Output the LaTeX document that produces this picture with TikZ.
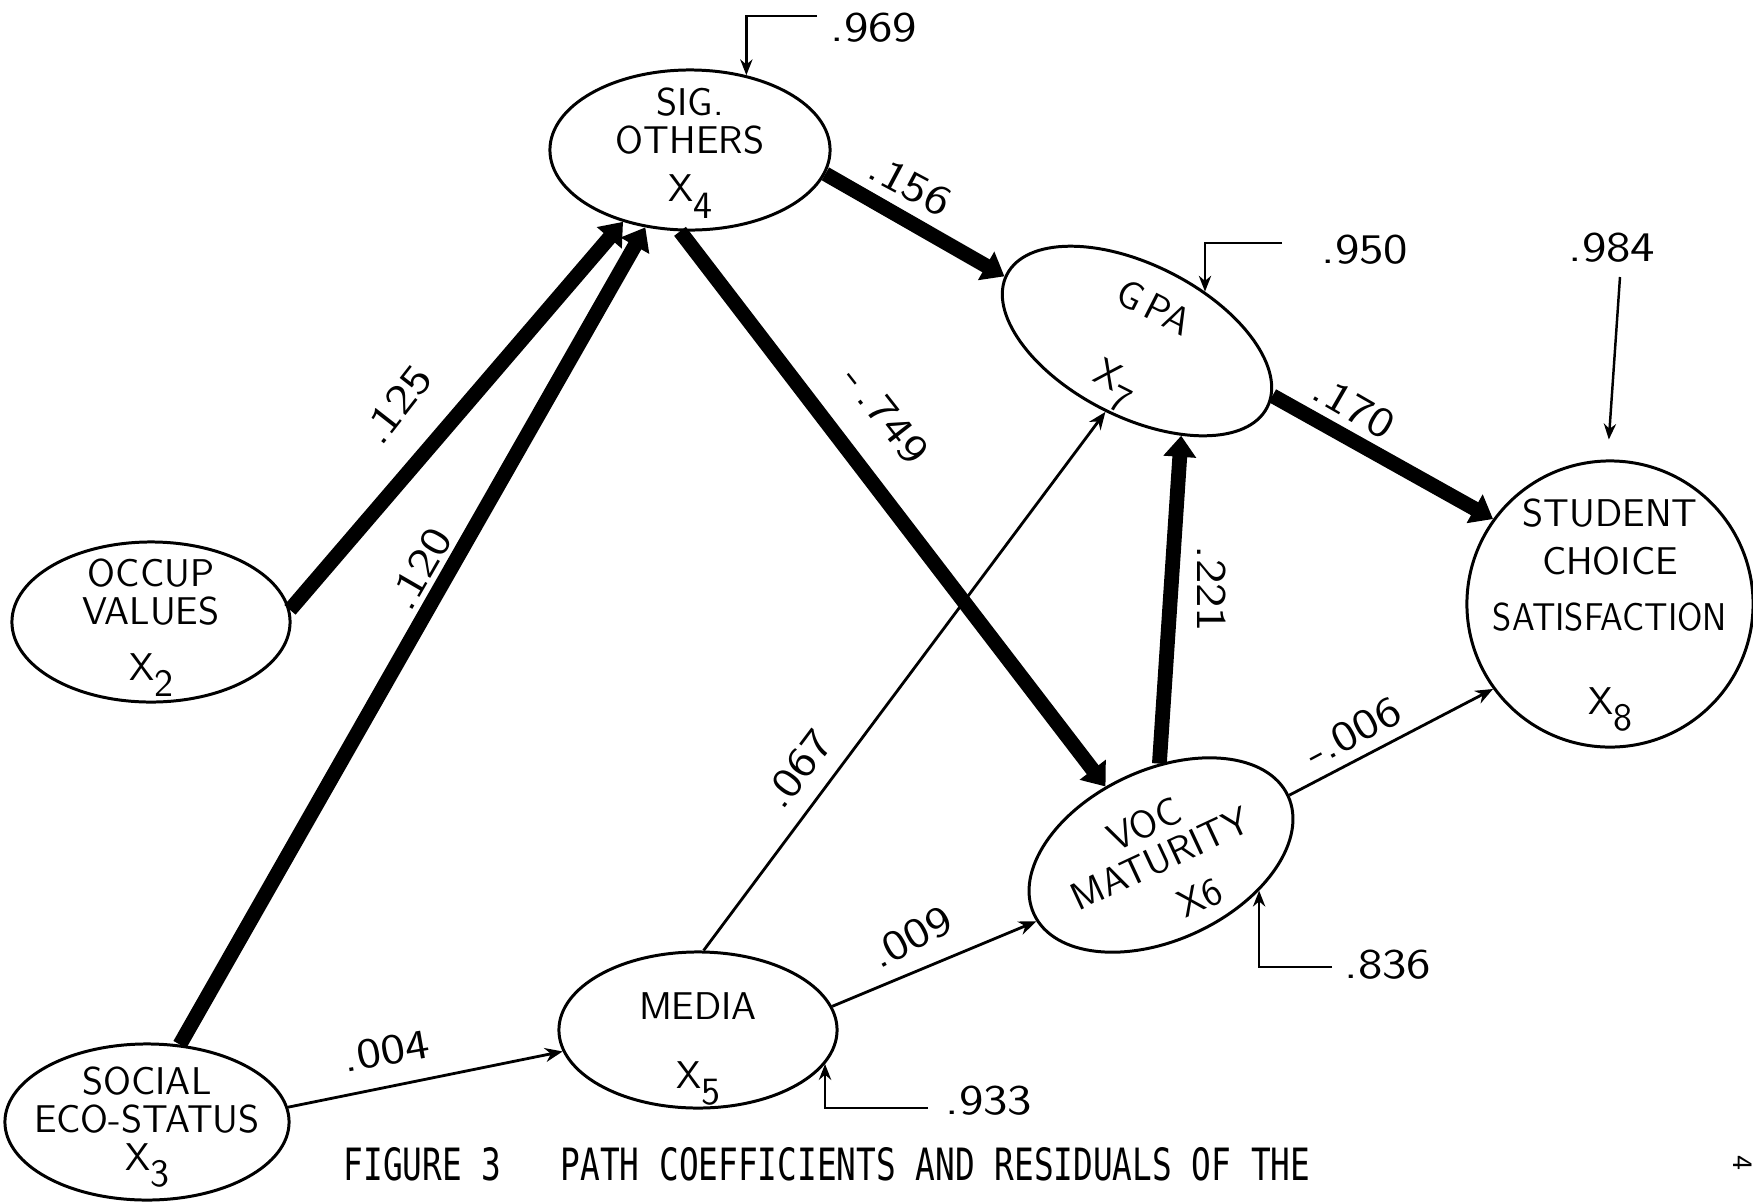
\documentclass[tikz,border=0pt]{standalone}
\usepackage{fontspec}
\newfontfamily\capfont{DejaVu Sans Mono}
\usetikzlibrary{shapes.geometric,arrows.meta}
\newcommand\sbs[1]{\raisebox{-0.42em}{#1}}
\newcommand\nm[1]{\scalebox{1.18}[1]{#1}}
\begin{document}
\begin{tikzpicture}[x=0.01cm,y=-0.01cm,
  var/.style={ellipse,draw,line width=0.85pt,inner sep=0pt},
  lbl/.style={font=\sffamily\fontsize{11}{10.8}\selectfont,align=center,inner sep=0pt},
  num/.style={font=\sffamily\fontsize{12}{12}\selectfont,inner sep=0pt},
  heavy/.style={line width=4.2pt,-{Triangle[length=6pt,width=9pt]}},
  light/.style={line width=0.8pt,-{Stealth[length=5pt,width=4pt]}},
  resid/.style={line width=0.7pt,-{Stealth[length=4.5pt,width=3.5pt]}},
]
\useasboundingbox (0,0) rectangle (1753,1202);
% variables
\node[var,minimum width=2.8cm,minimum height=1.6cm] (sig) at (690,150) {};
\node[var,minimum width=2.92cm,minimum height=1.52cm,rotate=-27] (gpa) at (1137,341) {};
\node[var,minimum width=2.78cm,minimum height=1.6cm] (occ) at (151,622) {};
\node[var,minimum width=2.84cm,minimum height=1.56cm] (soc) at (147,1122) {};
\node[var,minimum width=2.78cm,minimum height=1.56cm] (med) at (698,1030) {};
\node[var,minimum width=2.8cm,minimum height=1.7cm,rotate=25] (voc) at (1161,855) {};
\node[var,minimum width=2.86cm,minimum height=2.86cm] (stu) at (1610,604) {};
% labels inside
\node[lbl] (sigT) at (690,153) {SIG.\\OTHERS\\[3pt]X\sbs{4}};
\node[lbl] (occT) at (151,628) {OCCUP\\VALUES\\[5pt]X\sbs{2}};
\node[lbl] (socT) at (147,1127) {SOCIAL\\ECO-STATUS\\X\sbs{3}};
\node[lbl] (medT) at (698,1049) {MEDIA\\[9pt]X\sbs{5}};
\node[lbl] (stuT) at (1610,615) {STUDENT\\[3pt]CHOICE\\[5pt]\scalebox{0.91}[1]{SATISFACTION}\\[13pt]X\sbs{8}};
\node[lbl,rotate=-27] (gpaT) at (1132,350) {G\,PA\\[12pt]X\sbs{7}};
\node[lbl,rotate=25] (vocT) at (1163,865) {VOC\\MATURITY\\[4pt]\hspace*{0.4cm}X6};
% connectors
\draw[heavy] (occ.5) -- (sig.227);
\draw[heavy] (soc.67) -- (sig.240);
\draw[heavy] (sig.263) -- (voc.104);
\draw[heavy] (sig.350) -- (gpa.181);
\draw[heavy] (gpa.5) -- (stu.144);
\draw[heavy] (voc.66) -- (gpa.322);
\draw[light] (med.86) -- (gpa.273);
\draw[light] (med.10) -- (voc.183);
\draw[light] (soc.6) -- (med.189);
\draw[light] (voc.0) -- (stu.216);
% residuals
\coordinate (c969) at (817,16);
\coordinate (c950) at (1282,243);
\coordinate (c984) at (1620,277);
\coordinate (c836) at (1332,967);
\coordinate (c933) at (928,1108);
\draw[resid] (c969) -| (sig.53);
\draw[resid] (c950) -| (gpa.63);
\draw[resid,shorten >=0.2cm] (c984) -- (stu.91);
\draw[resid] (c836) -| (voc.315);
\draw[resid] (c933) -| (med.345);
% coefficients
\node[num] (n969) at (874,28) {\nm{.969}};
\node[num,rotate=-28] (n156) at (910,185) {\nm{.156}};
\node[num] (n950) at (1365,250) {\nm{.950}};
\node[num] (n984) at (1612,248) {\nm{.984}};
\node[num,rotate=-30] (n170) at (1354,407) {\nm{.170}};
\node[num,rotate=-90] (n221) at (1212,589) {\nm{.221}};
\node[num,rotate=-52] (n749) at (886,415) {\nm{-\,.749}};
\node[num,rotate=52] (n125) at (397,405) {\nm{.125}};
\node[num,rotate=60] (n120) at (420,569) {\nm{.120}};
\node[num,rotate=53] (n067) at (798,769) {\nm{.067}};
\node[num,rotate=28] (n006) at (1353,732) {\nm{-.006}};
\node[num,rotate=28] (n009) at (911,937) {\nm{.009}};
\node[num,rotate=10] (n004) at (386,1051) {\nm{.004}};
\node[num] (n836) at (1388,965) {\nm{.836}};
\node[num] (n933) at (989,1101) {\nm{.933}};
% caption
\node[inner sep=0pt] (cap) at (827,1164) {\resizebox{9.66cm}{0.33cm}{\capfont FIGURE~3~~~PATH COEFFICIENTS AND RESIDUALS OF THE}};
\node[inner sep=0pt,rotate=-90,font=\sffamily\fontsize{8}{8}\selectfont] (pg) at (1743,1163) {4};
\end{tikzpicture}
\end{document}
